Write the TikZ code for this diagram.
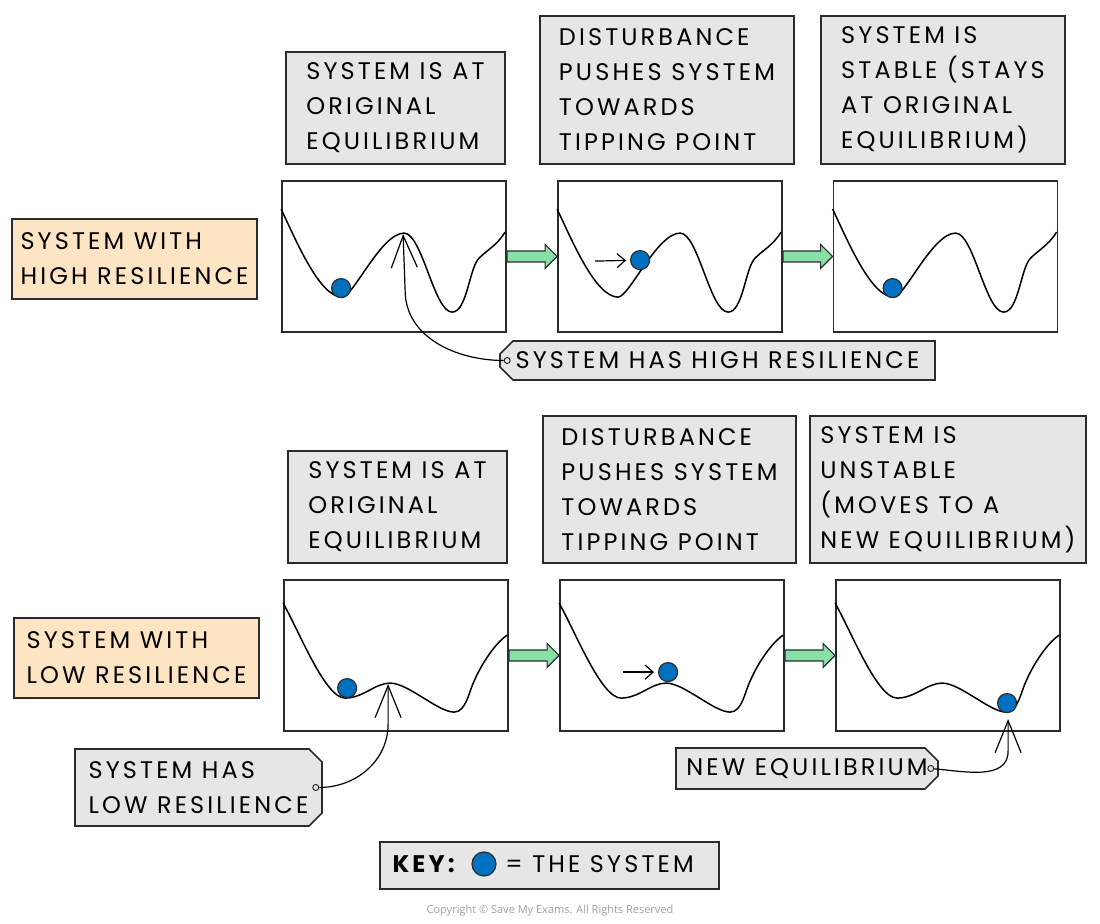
\documentclass[tikz,border=0pt]{standalone}
\usepackage{fontspec}
\setmainfont{Poppins}[LetterSpace=13]
\newfontfamily\copyfont{Open Sans}
\usepackage{xcolor}
\usepackage{tikz}
\usetikzlibrary{shapes.misc, arrows.meta, positioning, calc}

\definecolor{boxgray}{HTML}{E6E6E6}
\definecolor{boxorange}{HTML}{FDE5C3}
\definecolor{flowgreen}{HTML}{88E0A6}
\definecolor{ballblue}{HTML}{0070C0}
\definecolor{linegray}{HTML}{2B2B2B}

% landscape curves, drawn in the panel's own coordinates
\newcommand{\hiland}{\draw[valley] (0,29) .. controls (14,58) and (38,117) .. (61,117)
  .. controls (72,117) and (100,53) .. (123,53)
  .. controls (141,53) and (153,132) .. (171,132)
  .. controls (186,132) and (188,88) .. (198,78)
  .. controls (206,70) and (216,65) .. (224,52);}
\newcommand{\loland}{\draw[valley] (0,24) .. controls (16,52) and (42,119) .. (62,119)
  .. controls (80,119) and (92,104) .. (107,104)
  .. controls (125,104) and (155,133) .. (171,133)
  .. controls (183,133) and (186,112) .. (191,102)
  .. controls (197,88) and (210,66) .. (224,56);}
% green block arrow between two panels
\newcommand{\stepflow}[2]{\draw[flowfill] ($(#1.east)+(0,-5.5)$) -- ($(#2.west)+(-12,-5.5)$)
  -- ($(#2.west)+(-12,-12)$) -- (#2.west) -- ($(#2.west)+(-12,12)$)
  -- ($(#2.west)+(-12,5.5)$) -- ($(#1.east)+(0,5.5)$) -- cycle;}

\begin{document}
\begin{tikzpicture}[x=0.5pt, y=-0.5pt,
        % 1. STYLES
        base/.style={
            draw=linegray, line width=0.8pt, align=left, inner sep=0pt,
            font=\fontsize{12}{17.5}\selectfont
        },
        % grey text boxes
        notebox/.style={base, fill=boxgray},
        % orange row titles
        sysbox/.style={base, fill=boxorange, minimum width=122.5pt, minimum height=40pt},
        % landscape frames
        panel/.style={draw=linegray, line width=0.9pt, minimum width=112pt, minimum height=75.5pt, inner sep=0pt},
        valley/.style={line width=0.75pt},
        ball/.style={circle, draw=linegray, fill=ballblue, line width=0.6pt, minimum size=9.5pt, inner sep=0pt},
        % label tags with a cut end
        tagbox/.style={base, fill=boxgray, chamfered rectangle, chamfered rectangle xsep=2.5pt,
            chamfered rectangle ysep=4pt},
        eyelet/.style={circle, draw=linegray, fill=boxgray, line width=0.5pt, minimum size=3pt, inner sep=0pt},
        % arrows
        pointer/.style={line width=0.6pt, -{Straight Barb[length=16pt, width=13pt]}},
        push/.style={line width=0.6pt, shorten >=2pt, -{Straight Barb[length=4pt, width=7pt]}},
        flowfill/.style={draw=linegray, fill=flowgreen, line width=0.6pt, line join=miter}
    ]
    \useasboundingbox (0,0) rectangle (1100,924);

    % 2. HIGH RESILIENCE ROW
    \node[sysbox] (hisys) at (134.5,259) {SYSTEM WITH\\HIGH RESILIENCE};
    \node[notebox, minimum width=109.5pt, minimum height=56pt] (hinote1) at (395.5,108) {SYSTEM IS AT\\ORIGINAL\\EQUILIBRIUM};
    \node[notebox, minimum width=127pt, minimum height=74pt] (hinote2) at (667,90) {DISTURBANCE\\PUSHES SYSTEM\\TOWARDS\\TIPPING POINT};
    \node[notebox, minimum width=122pt, minimum height=74pt] (hinote3) at (943,90) {SYSTEM IS\\STABLE (STAYS\\AT ORIGINAL\\EQUILIBRIUM)};

    \node[panel] (hi1) at (394,256.5) {};
    \node[panel] (hi2) at (670,256.5) {};
    \node[panel] (hi3) at (945.5,256.5) {};

    \begin{scope}[shift={(hi1.north west)}]
        \hiland
        \node[ball] (hiball1) at (60,108) {};
        \coordinate (hipeak) at (122,54);
        \coordinate (hibend) at (124,110);
    \end{scope}
    \begin{scope}[shift={(hi2.north west)}]
        \hiland
        \node[ball] (hiball2) at (83,80) {};
        \coordinate (hipush) at (38,81);
    \end{scope}
    \begin{scope}[shift={(hi3.north west)}]
        \hiland
        \node[ball] (hiball3) at (60,108) {};
    \end{scope}

    \stepflow{hi1}{hi2}
    \stepflow{hi2}{hi3}
    \draw[push] (hipush) -- (hiball2);

    \node[tagbox, minimum width=217.5pt, minimum height=19.5pt, chamfered rectangle corners={north west, south west}] (hitag) at (717.5,360.5) {SYSTEM HAS HIGH RESILIENCE};
    \node[eyelet] (hihole) at ($(hitag.west)+(8,0)$) {};
    \draw[pointer] (hihole) to[out=180, in=-90] (hibend) -- (hipeak);

    % 3. LOW RESILIENCE ROW
    \node[sysbox] (losys) at (136.5,658) {SYSTEM WITH\\LOW RESILIENCE};
    \node[notebox, minimum width=109.5pt, minimum height=56pt] (lonote1) at (397.5,507) {SYSTEM IS AT\\ORIGINAL\\EQUILIBRIUM};
    \node[notebox, minimum width=126.5pt, minimum height=73.5pt] (lonote2) at (669.5,489.5) {DISTURBANCE\\PUSHES SYSTEM\\TOWARDS\\TIPPING POINT};
    \node[notebox, minimum width=138pt, minimum height=73.5pt] (lonote3) at (948,489.5) {SYSTEM IS\\UNSTABLE\\(MOVES TO A\\NEW EQUILIBRIUM)};

    \node[panel] (lo1) at (396,655.5) {};
    \node[panel] (lo2) at (672,655.5) {};
    \node[panel] (lo3) at (948,655.5) {};

    \begin{scope}[shift={(lo1.north west)}]
        \loland
        \node[ball] (loball1) at (64,109) {};
        \coordinate (lopeak) at (105,105);
        \coordinate (lobend) at (105,145);
    \end{scope}
    \begin{scope}[shift={(lo2.north west)}]
        \loland
        \node[ball] (loball2) at (109,93) {};
        \coordinate (lopush) at (64,93);
    \end{scope}
    \begin{scope}[shift={(lo3.north west)}]
        \loland
        \node[ball] (loball3) at (172,124) {};
        \coordinate (newpeak) at (173,140);
        \coordinate (newbend) at (173,172);
    \end{scope}

    \stepflow{lo1}{lo2}
    \stepflow{lo2}{lo3}
    \draw[push] (lopush) -- (loball2);

    \node[tagbox, minimum width=123.5pt, minimum height=38.5pt, chamfered rectangle corners={north east, south east}] (lotag) at (198.5,787.5) {SYSTEM HAS\\LOW RESILIENCE};
    \node[eyelet] (lohole) at ($(lotag.east)+(-7,0)$) {};
    \draw[pointer] (lohole) to[out=0, in=-90] (lobend) -- (lopeak);

    \node[tagbox, minimum width=131pt, minimum height=20.5pt, chamfered rectangle corners={north east, south east}] (newtag) at (807,768.5) {NEW EQUILIBRIUM};
    \node[eyelet] (newhole) at ($(newtag.east)+(-8,0)$) {};
    \draw[pointer] (newhole) to[out=-5, in=-90] (newbend) -- (newpeak);

    % 4. KEY
    \node[notebox, minimum width=169.5pt, minimum height=23.5pt] (key) at (549.5,865.5) {};
    \node[ball, minimum size=12pt] (keyball) at (484,864) {};
    \node[base, draw=none, left=8pt of keyball, font=\fontsize{12}{17.5}\selectfont\bfseries] (keyword) {KEY:};
    \node[base, draw=none, right=4pt of keyball] (keytext) {= THE SYSTEM};

    \node[font=\copyfont\fontsize{5.5}{6}\selectfont, text=gray!75, inner sep=0pt] (copy) at (550,911) {Copyright \textcopyright\ Save My Exams. All Rights Reserved};

\end{tikzpicture}
\end{document}
